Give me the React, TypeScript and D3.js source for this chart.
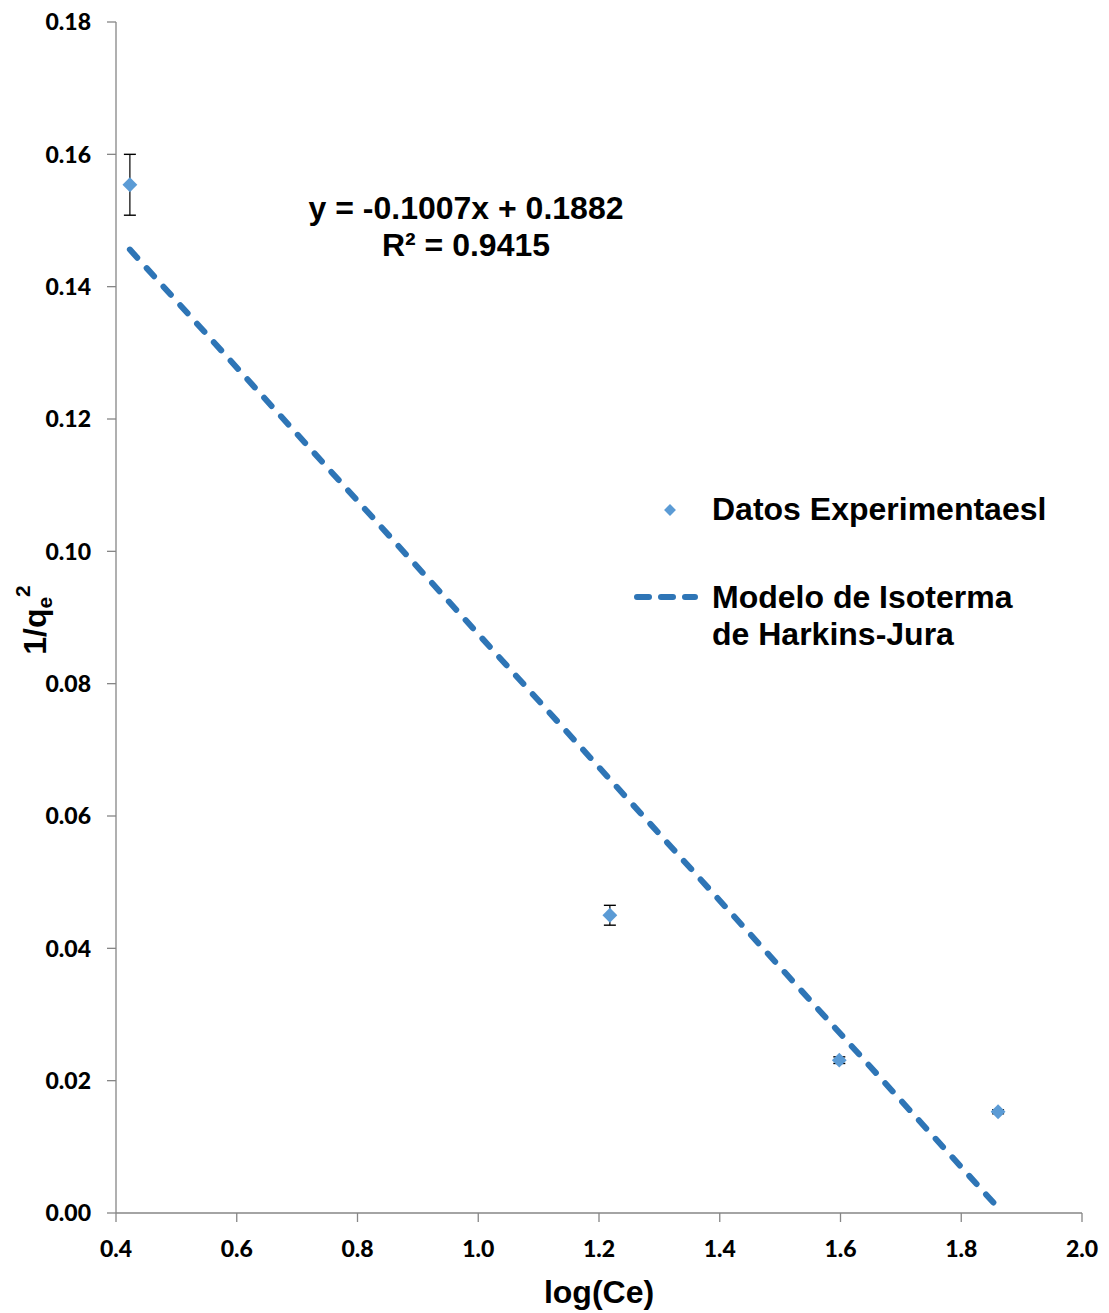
import * as d3 from "d3";
import React from "react";

const width = 1109;
const height = 1313;
const margin = { top: 22, right: 27, bottom: 100, left: 116 };

// experimental points
const logCe = [0.423, 1.218, 1.598, 1.861];
const invQe2 = [0.1554, 0.045, 0.0231, 0.0153];
const errors = [0.0046, 0.0015, 0.0005, 0.0003];

// linear fit
const slope = -0.1007;
const intercept = 0.1882;
const r2 = 0.9415;

const xTicks = [0.4, 0.6, 0.8, 1.0, 1.2, 1.4, 1.6, 1.8, 2.0];
const yTicks = [0, 0.02, 0.04, 0.06, 0.08, 0.1, 0.12, 0.14, 0.16, 0.18];

const axisColor = "#868686";
const pointColor = "#5B9BD5";
const lineColor = "#2E75B6";
const tickFont = "Lato, 'Open Sans', sans-serif";
const labelFont = "'Liberation Sans', Arial, sans-serif";
const labelSize = 32;

const App = () => {
  const x = d3
    .scaleLinear()
    .domain([0.4, 2.0])
    .range([margin.left, width - margin.right]);
  const y = d3
    .scaleLinear()
    .domain([0, 0.18])
    .range([height - margin.bottom, margin.top]);

  const data = logCe.map((v, i) => ({ x: v, y: invQe2[i], e: errors[i] }));
  const xMin = d3.min(logCe) as number;
  const xMax = d3.max(logCe) as number;
  const fit = [xMin, xMax].map((v) => ({ x: v, y: slope * v + intercept }));
  const line = d3
    .line<{ x: number; y: number }>()
    .x((d) => x(d.x))
    .y((d) => y(d.y));

  const diamond = d3.symbol().type(d3.symbolDiamond2).size(140)();
  const y0 = y(0);

  return (
    <svg
      width={width}
      height={height}
      style={{ position: "absolute", left: 0, top: 0, background: "#fff" }}
    >
      {/* axes */}
      <line x1={x(0.4)} x2={x(2.0)} y1={y0} y2={y0} stroke={axisColor} strokeWidth={1.3} />
      <line x1={x(0.4)} x2={x(0.4)} y1={y(0)} y2={y(0.18)} stroke={axisColor} strokeWidth={1.3} />
      {yTicks.map((t) => (
        <g key={"y" + t}>
          <line x1={x(0.4) - 9} x2={x(0.4)} y1={y(t)} y2={y(t)} stroke={axisColor} strokeWidth={1.3} />
          <text
            x={x(0.4) - 25}
            y={y(t)}
            dy="0.36em"
            textAnchor="end"
            fontFamily={tickFont}
            fontWeight="900"
            fontSize={23}
          >
            {t.toFixed(2)}
          </text>
        </g>
      ))}
      {xTicks.map((t) => (
        <g key={"x" + t}>
          <line x1={x(t)} x2={x(t)} y1={y0} y2={y0 + 9} stroke={axisColor} strokeWidth={1.3} />
          <text
            x={x(t)}
            y={y0 + 44}
            textAnchor="middle"
            fontFamily={tickFont}
            fontWeight="900"
            fontSize={23}
          >
            {t.toFixed(1)}
          </text>
        </g>
      ))}

      {/* axis titles */}
      <text
        x={x(1.2)}
        y={1303}
        textAnchor="middle"
        fontFamily={labelFont}
        fontWeight="bold"
        fontSize={labelSize}
      >
        log(Ce)
      </text>
      <text
        transform="translate(46, 620) rotate(-90)"
        textAnchor="middle"
        fontFamily={labelFont}
        fontWeight="bold"
        fontSize={labelSize}
      >
        1/q
        <tspan fontSize={21} dy={6}>e</tspan>
        <tspan fontSize={21} dy={-22}>2</tspan>
      </text>

      {/* trendline */}
      <path
        d={line(fit) ?? ""}
        fill="none"
        stroke={lineColor}
        strokeWidth={6}
        strokeDasharray="11 14"
        strokeLinecap="round"
      />

      {/* error bars and points */}
      {data.map((d, i) => (
        <g key={"p" + i}>
          <line x1={x(d.x)} x2={x(d.x)} y1={y(d.y - d.e)} y2={y(d.y + d.e)} stroke="#000" strokeWidth={1.2} />
          <line x1={x(d.x) - 6} x2={x(d.x) + 6} y1={y(d.y - d.e)} y2={y(d.y - d.e)} stroke="#000" strokeWidth={1.4} />
          <line x1={x(d.x) - 6} x2={x(d.x) + 6} y1={y(d.y + d.e)} y2={y(d.y + d.e)} stroke="#000" strokeWidth={1.4} />
          <path d={diamond ?? ""} transform={`translate(${x(d.x)},${y(d.y)})`} fill={pointColor} />
        </g>
      ))}

      {/* equation */}
      <text textAnchor="middle" fontFamily={labelFont} fontWeight="bold" fontSize={labelSize}>
        <tspan x={466} y={219}>
          y = {slope.toFixed(4)}x + {intercept.toFixed(4)}
        </tspan>
        <tspan x={466} y={256}>
          R² = {r2.toFixed(4)}
        </tspan>
      </text>

      {/* legend */}
      <path d={d3.symbol().type(d3.symbolDiamond2).size(90)() ?? ""} transform="translate(670,510)" fill={pointColor} />
      <text x={712} y={520} fontFamily={labelFont} fontWeight="bold" fontSize={labelSize}>
        Datos Experimentaesl
      </text>
      <line
        x1={637}
        x2={695}
        y1={597}
        y2={597}
        stroke={lineColor}
        strokeWidth={6}
        strokeDasharray="12 12"
        strokeLinecap="round"
      />
      <text fontFamily={labelFont} fontWeight="bold" fontSize={labelSize}>
        <tspan x={712} y={608}>Modelo de Isoterma</tspan>
        <tspan x={712} y={645}>de Harkins-Jura</tspan>
      </text>
    </svg>
  );
};

export default App;
